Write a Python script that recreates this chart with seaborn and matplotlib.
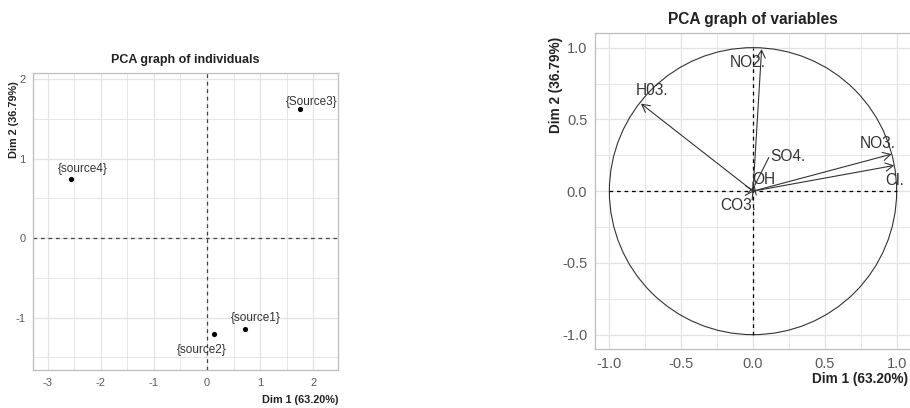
import numpy as np
import pandas as pd
import matplotlib
matplotlib.use("Agg")
import matplotlib.pyplot as plt
from matplotlib.patches import Circle
import seaborn as sns

# --- individuals (scores on the first two principal dimensions) ---
ind_names = ["{source1}", "{source2}", "{Source3}", "{source4}"]
ind_dim1 = [0.72, 0.14, 1.76, -2.57]
ind_dim2 = [-1.14, -1.21, 1.62, 0.74]

# --- variables (correlations with the first two dimensions) ---
var_names = ["NO3.", "Cl.", "NO2.", "H03.", "SO4.", "OH", "CO3."]
var_dim1 = [0.965, 0.983, 0.06, -0.78, 0.012, 0.004, 0.002]
var_dim2 = [0.258, 0.179, 0.99, 0.61, 0.04, 0.006, -0.004]

dim1_label = "Dim 1 (63.20%)"
dim2_label = "Dim 2 (36.79%)"

sns.set_theme(style="white")
SANS = ["Liberation Sans", "DejaVu Sans"]
plt.rcParams["font.family"] = SANS

GRID = "#E3E3E3"
BORDER = "#BDBDBD"
TICK = "#5A5A5A"

fig = plt.figure(figsize=(9.10, 4.08), dpi=100)

ax1 = fig.add_axes([33 / 910, 1 - 370 / 408, 305 / 910, 297 / 408])
ax2 = fig.add_axes([595 / 910, 1 - 349 / 408, 316 / 910, 315.7 / 408])


def style_panel(ax, major, minor, tick_size):
    ax.set_facecolor("white")
    ax.set_xticks(major[0])
    ax.set_yticks(major[1])
    ax.set_xticks(minor[0], minor=True)
    ax.set_yticks(minor[1], minor=True)
    ax.grid(True, which="major", color=GRID, lw=0.9, zorder=0)
    ax.grid(True, which="minor", color=GRID, lw=0.6, zorder=0)
    ax.set_axisbelow(True)
    for s in ax.spines.values():
        s.set_color(BORDER)
        s.set_linewidth(0.9)
    ax.tick_params(which="major", length=2.5, width=0.7, color=BORDER,
                   labelcolor=TICK, labelsize=tick_size, pad=3)
    ax.tick_params(which="minor", length=0)
    ax.set_xlabel("")
    ax.set_ylabel("")


# ---------------- individuals ----------------
ind_df = pd.DataFrame({"Dim1": ind_dim1, "Dim2": ind_dim2, "name": ind_names})
ax1.axhline(0, color="#444444", lw=0.9, ls=(0, (3, 3)), zorder=1)
ax1.axvline(0, color="#444444", lw=0.9, ls=(0, (3, 3)), zorder=1)
sns.scatterplot(data=ind_df, x="Dim1", y="Dim2", ax=ax1, color="black",
                s=14, edgecolor="black", linewidth=0, zorder=3, legend=False)
ax1.set_xlim(-3.28, 2.47)
ax1.set_ylim(-1.66, 2.076)
style_panel(ax1, ([-3, -2, -1, 0, 1, 2], [-1, 0, 1, 2]),
            ([-2.5, -1.5, -0.5, 0.5, 1.5], [-1.5, -0.5, 0.5, 1.5]), 8)
ax1.set_yticklabels(["-1", "0", "1", "2"])
ax1.set_xticklabels(["-3", "-2", "-1", "0", "1", "2"])

# repelled label offsets (data units)
ind_offsets = [(0.20, 0.14), (-0.245, -0.195), (0.21, 0.095), (0.22, 0.13)]
for name, x, y, (dx, dy) in zip(ind_names, ind_dim1, ind_dim2, ind_offsets):
    ax1.text(x + dx, y + dy, name, ha="center", va="center", fontsize=8.5,
             color="#333333", zorder=4)

ax1.set_title("PCA graph of individuals", fontsize=9, fontweight="bold",
              color="#222222", pad=7)
fig.text(338 / 910, 1 - 400 / 408, dim1_label, ha="right", va="center",
         fontsize=7.8, fontweight="bold", color="#222222")
fig.text(14 / 910, 1 - 120 / 408, dim2_label, ha="center", va="center",
         rotation=90, fontsize=7.8, fontweight="bold", color="#222222")

# ---------------- variables ----------------
ax2.add_patch(Circle((0, 0), 1, fill=False, ec="#333333", lw=0.8, zorder=2))
ax2.plot([-1, 1], [0, 0], color="black", lw=0.9, ls=(0, (3, 3)), zorder=2)
ax2.plot([0, 0], [-1, 1], color="black", lw=0.9, ls=(0, (3, 3)), zorder=2)
ax2.set_xlim(-1.1, 1.1)
ax2.set_ylim(-1.1, 1.1)
style_panel(ax2, ([-1.0, -0.5, 0.0, 0.5, 1.0], [-1.0, -0.5, 0.0, 0.5, 1.0]),
            ([-0.75, -0.25, 0.25, 0.75], [-0.75, -0.25, 0.25, 0.75]), 10.5)
ax2.xaxis.set_major_formatter(matplotlib.ticker.FormatStrFormatter("%.1f"))
ax2.yaxis.set_major_formatter(matplotlib.ticker.FormatStrFormatter("%.1f"))

var_df = pd.DataFrame({"Dim1": var_dim1, "Dim2": var_dim2, "name": var_names})
for _, r in var_df.iterrows():
    ax2.annotate("", xy=(r.Dim1, r.Dim2), xytext=(0, 0),
                 arrowprops=dict(arrowstyle="->,head_length=0.55,head_width=0.3",
                                 color="#333333", lw=0.8, shrinkA=0, shrinkB=0,
                                 mutation_scale=10), zorder=3)

# label positions after repelling (data units)
var_label_x = [0.866, 0.985, -0.04, -0.70, 0.245, 0.072, -0.10]
var_label_y = [0.335, 0.077, 0.896, 0.70, 0.24, 0.079, -0.10]
for name, x, y, lx, ly in zip(var_names, var_dim1, var_dim2,
                              var_label_x, var_label_y):
    ax2.text(lx, ly, name, ha="center", va="center", fontsize=11.2,
             color="#333333", zorder=4)

# leader line joining the displaced SO4. label to its arrow
so4 = var_names.index("SO4.")
ax2.plot([var_dim1[so4], var_label_x[so4] - 0.135],
         [var_dim2[so4], var_label_y[so4] - 0.005],
         color="#333333", lw=0.8, zorder=3)

ax2.set_title("PCA graph of variables", fontsize=11.2, fontweight="bold",
              color="#222222", pad=7)
fig.text(908 / 910, 1 - 379 / 408, dim1_label, ha="right", va="center",
         fontsize=9.8, fontweight="bold", color="#222222")
fig.text(556 / 910, 1 - 85 / 408, dim2_label, ha="center", va="center",
         rotation=90, fontsize=9.8, fontweight="bold", color="#222222")

fig.savefig("out.png", dpi=100, facecolor="white")
